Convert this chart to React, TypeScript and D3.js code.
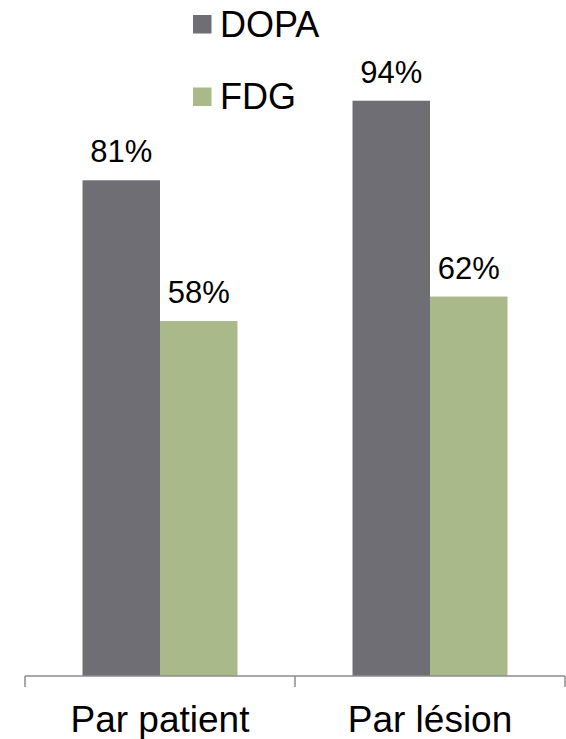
import React from "react";
import * as d3 from "d3";

const categories = ["Par patient", "Par lésion"];
const seriesNames = ["DOPA", "FDG"];
const dopaValues = [81, 94];
const fdgValues = [58, 62];
const seriesColors = ["#6f6e74", "#a9b98a"];

const W = 566;
const H = 739;
const FONT = "'Liberation Sans', Arial, Helvetica, sans-serif";

export default function App() {
  const values = [dopaValues, fdgValues];
  const x0 = d3
    .scaleBand<string>()
    .domain(categories)
    .range([25, 565])
    .paddingInner(0.426)
    .paddingOuter(0.213);
  const x1 = d3
    .scaleBand<string>()
    .domain(seriesNames)
    .range([0, x0.bandwidth()]);
  const y = d3.scaleLinear().domain([0, 100]).range([676, 64]);
  const step = x0.step();
  const axisStart = 25;
  const tickXs = d3.range(categories.length + 1).map((i) => axisStart + i * step);

  return (
    <svg
      width={W}
      height={H}
      style={{ position: "absolute", left: 0, top: 0, display: "block", background: "#fff" }}
      fontFamily={FONT}
    >
      {categories.map((c, ci) => (
        <g key={c}>
          {seriesNames.map((s, si) => {
            const v = values[si][ci];
            const bx = (x0(c) as number) + (x1(s) as number);
            return (
              <g key={s}>
                <rect
                  x={bx}
                  y={y(v)}
                  width={x1.bandwidth()}
                  height={y(0) - y(v)}
                  fill={seriesColors[si]}
                />
                <text
                  x={bx + x1.bandwidth() / 2}
                  y={y(v) - 18}
                  textAnchor="middle"
                  fontSize={31}
                  fill="#000"
                >
                  {v}%
                </text>
              </g>
            );
          })}
          <text
            x={(x0(c) as number) + x0.bandwidth() / 2}
            y={731.5}
            textAnchor="middle"
            fontSize={37}
            fill="#000"
          >
            {c}
          </text>
        </g>
      ))}
      <line x1={axisStart} x2={tickXs[tickXs.length - 1]} y1={y(0)} y2={y(0)} stroke="#8c8c8c" strokeWidth={1.5} />
      {tickXs.map((tx, i) => (
        <line key={i} x1={tx} x2={tx} y1={y(0)} y2={y(0) + 11} stroke="#8c8c8c" strokeWidth={1.5} />
      ))}
      {seriesNames.map((s, si) => (
        <g key={s} transform={`translate(193, ${15 + si * 72.5})`}>
          <rect x={0} y={0} width={18.5} height={18.5} fill={seriesColors[si]} />
          <text x={27} y={21.5} fontSize={36} fill="#000">
            {s}
          </text>
        </g>
      ))}
    </svg>
  );
}
